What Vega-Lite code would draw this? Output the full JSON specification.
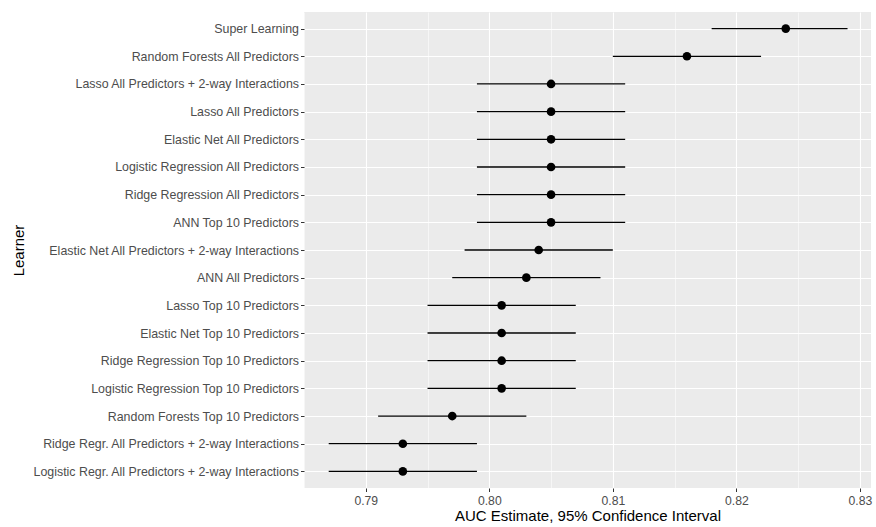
{
  "$schema": "https://vega.github.io/schema/vega-lite/v6.json",
  "width": 567,
  "height": 476,
  "autosize": {"type": "none"},
  "padding": {"left": 304, "top": 12, "right": 5, "bottom": 39},
  "background": "white",
  "data": {
    "values": [
      {"learner": "Super Learning", "auc": 0.824, "lo": 0.818, "hi": 0.829},
      {"learner": "Random Forests All Predictors", "auc": 0.816, "lo": 0.810, "hi": 0.822},
      {"learner": "Lasso All Predictors + 2-way Interactions", "auc": 0.805, "lo": 0.799, "hi": 0.811},
      {"learner": "Lasso All Predictors", "auc": 0.805, "lo": 0.799, "hi": 0.811},
      {"learner": "Elastic Net All Predictors", "auc": 0.805, "lo": 0.799, "hi": 0.811},
      {"learner": "Logistic Regression All Predictors", "auc": 0.805, "lo": 0.799, "hi": 0.811},
      {"learner": "Ridge Regression All Predictors", "auc": 0.805, "lo": 0.799, "hi": 0.811},
      {"learner": "ANN Top 10 Predictors", "auc": 0.805, "lo": 0.799, "hi": 0.811},
      {"learner": "Elastic Net All Predictors + 2-way Interactions", "auc": 0.804, "lo": 0.798, "hi": 0.810},
      {"learner": "ANN All Predictors", "auc": 0.803, "lo": 0.797, "hi": 0.809},
      {"learner": "Lasso Top 10 Predictors", "auc": 0.801, "lo": 0.795, "hi": 0.807},
      {"learner": "Elastic Net Top 10 Predictors", "auc": 0.801, "lo": 0.795, "hi": 0.807},
      {"learner": "Ridge Regression Top 10 Predictors", "auc": 0.801, "lo": 0.795, "hi": 0.807},
      {"learner": "Logistic Regression Top 10 Predictors", "auc": 0.801, "lo": 0.795, "hi": 0.807},
      {"learner": "Random Forests Top 10 Predictors", "auc": 0.797, "lo": 0.791, "hi": 0.803},
      {"learner": "Ridge Regr. All Predictors + 2-way Interactions", "auc": 0.793, "lo": 0.787, "hi": 0.799},
      {"learner": "Logistic Regr. All Predictors + 2-way Interactions", "auc": 0.793, "lo": 0.787, "hi": 0.799}
    ]
  },
  "encoding": {
    "y": {
      "field": "learner",
      "type": "nominal",
      "sort": null,
      "scale": {"type": "point", "padding": 0.6},
      "axis": {
        "title": "Learner",
        "titleFont": "Liberation Sans",
        "titleFontSize": 15,
        "titleFontWeight": "normal",
        "titleColor": "#000000",
        "titleX": -286,
        "titleY": 238,
        "titleAngle": -90,
        "titleAlign": "center",
        "titleBaseline": "middle",
        "labelFont": "Liberation Sans",
        "labelFontSize": 12.4,
        "labelColor": "#4D4D4D",
        "labelPadding": 2,
        "labelLimit": 0,
        "domain": false,
        "ticks": true,
        "tickColor": "#333333",
        "tickSize": 3.5,
        "tickWidth": 1,
        "grid": true,
        "gridColor": "#FFFFFF",
        "gridWidth": 1.1
      }
    }
  },
  "layer": [
    {
      "mark": {"type": "rule", "color": "#000000", "strokeWidth": 1.3},
      "encoding": {
        "x": {
          "field": "lo",
          "type": "quantitative",
          "scale": {"domain": [0.785, 0.8309], "nice": false, "zero": false},
          "axis": {
            "orient": "top",
            "values": [0.785, 0.795, 0.805, 0.815, 0.825],
            "labels": false,
            "ticks": false,
            "domain": false,
            "title": null,
            "grid": true,
            "gridColor": "#FFFFFF",
            "gridWidth": 0.55
          }
        },
        "x2": {"field": "hi"}
      }
    },
    {
      "mark": {"type": "point", "filled": true, "color": "#000000", "opacity": 1, "size": 75},
      "encoding": {
        "x": {
          "field": "auc",
          "type": "quantitative",
          "axis": {
            "orient": "bottom",
            "values": [0.79, 0.80, 0.81, 0.82, 0.83],
            "format": ".2f",
            "title": "AUC Estimate, 95% Confidence Interval",
            "titleFont": "Liberation Sans",
            "titleFontSize": 15,
            "titleFontWeight": "normal",
            "titleColor": "#000000",
            "titlePadding": 2,
            "labelFont": "Liberation Sans",
            "labelFontSize": 12.2,
            "labelColor": "#4D4D4D",
            "labelPadding": 3,
            "domain": false,
            "ticks": true,
            "tickColor": "#333333",
            "tickSize": 3.5,
            "tickWidth": 1,
            "grid": true,
            "gridColor": "#FFFFFF",
            "gridWidth": 1.1
          }
        }
      }
    }
  ],
  "resolve": {"axis": {"x": "independent"}},
  "config": {
    "view": {"fill": "#EBEBEB", "stroke": null}
  }
}
